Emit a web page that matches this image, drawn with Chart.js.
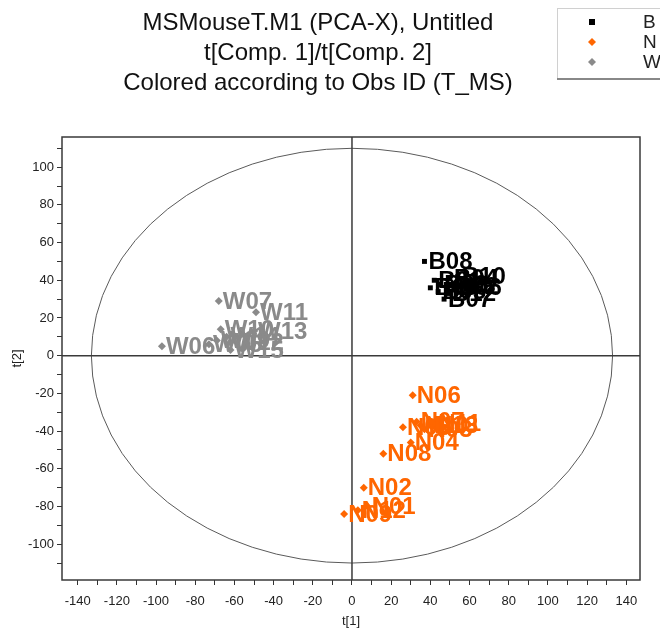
<!DOCTYPE html>
<html>
<head>
<meta charset="utf-8">
<script src="https://cdn.jsdelivr.net/npm/chart.js@4/dist/chart.umd.min.js"></script>
<style>
  html, body { margin: 0; padding: 0; background: #fff; }
  #wrap { width: 660px; height: 633px; position: relative; }
</style>
</head>
<body>
<div id="wrap"><canvas id="scoreChart"></canvas></div>
<script>
// --- Score values: t[1] and t[2] ---
const titleLines = ["MSMouseT.M1 (PCA-X), Untitled", "t[Comp. 1]/t[Comp. 2]", "Colored according to Obs ID (T_MS)"];
const groupNames = ["B", "N", "W"];

const bLabels = ["B01", "B03", "B09", "B05", "B02", "B04", "B06", "B10", "B12", "B07", "B08"];
const bT1 = [42, 45, 40, 44, 50, 50, 52, 54, 49, 47, 37];
const bT2 = [40, 38, 36, 34, 37, 41, 36, 42, 33, 30, 50];

const nLabels = ["N05", "N07", "N10", "N03", "N13", "N11", "N04", "N08", "N06", "N02", "N12", "N01", "N09"];
const nT1 = [26, 33, 35, 37, 40, 42, 30, 16, 31, 6, 3, 8, -4];
const nT2 = [-38, -35, -37, -39, -37, -36, -46, -52, -21, -70, -82, -80, -84];

const wLabels = ["W05", "W09", "W12", "W14", "W15", "W06", "W10", "W13", "W11", "W07"];
const wT1 = [-73, -69, -62, -64, -62, -97, -67, -50, -49, -68];
const wT2 = [6, 8, 7, 10, 3, 5, 14, 13, 23, 29];

// Hotelling T2 ellipse radii and axis ranges
const ellipseRx = 133, ellipseRy = 110;
const xMin = -148, xMax = 147, yMin = -119, yMax = 116;

const colB = "#000000", colN = "#ff6600", colW = "#8a8a8a";

function toPoints(xs, ys){
    return xs.map((x, i) => ({x: x, y: ys[i]}));
}

// --- Plugin: title, legend, ellipse, crosshair, box and point labels ---
const scorePlotDecor = {
    id: 'scorePlotDecor',
    beforeDatasetsDraw(chart){
        const ctx = chart.ctx, a = chart.chartArea;
        const xs = chart.scales.x, ys = chart.scales.y;
        ctx.save();
        // ellipse
        const cx = xs.getPixelForValue(0), cy = ys.getPixelForValue(0);
        const rx = xs.getPixelForValue(ellipseRx) - cx;
        const ry = cy - ys.getPixelForValue(ellipseRy);
        ctx.strokeStyle = "#5a5a5a";
        ctx.lineWidth = 1;
        ctx.beginPath();
        ctx.ellipse(cx, cy, rx, ry, 0, 0, Math.PI * 2);
        ctx.stroke();
        // crosshair
        ctx.strokeStyle = "#3a3a3a";
        ctx.lineWidth = 1.5;
        ctx.beginPath();
        ctx.moveTo(cx, a.top); ctx.lineTo(cx, a.bottom);
        ctx.moveTo(a.left, cy); ctx.lineTo(a.right, cy);
        ctx.stroke();
        // box
        ctx.strokeRect(a.left, a.top, a.right - a.left, a.bottom - a.top);
        ctx.restore();
    },
    afterDatasetsDraw(chart){
        const ctx = chart.ctx;
        ctx.save();
        ctx.font = "bold 24px 'Liberation Sans', Arial, sans-serif";
        ctx.textBaseline = "middle";
        ctx.textAlign = "left";
        chart.data.datasets.forEach((ds, di) => {
            const meta = chart.getDatasetMeta(di);
            ctx.fillStyle = ds.pointBackgroundColor;
            meta.data.forEach((pt, i) => {
                ctx.fillText(ds.names[i], pt.x + 4, pt.y + 1);
            });
        });
        ctx.restore();
    },
    afterDraw(chart){
        const ctx = chart.ctx;
        ctx.save();
        // title
        ctx.fillStyle = "#111";
        ctx.font = "24px 'Liberation Sans', Arial, sans-serif";
        ctx.textAlign = "center";
        ctx.textBaseline = "middle";
        titleLines.forEach((t, i) => ctx.fillText(t, 318, 23 + i * 30));
        // legend box
        ctx.fillStyle = "#fff";
        ctx.fillRect(557, 8, 110, 70);
        ctx.strokeStyle = "#d0d0d0";
        ctx.lineWidth = 1;
        ctx.strokeRect(557.5, 8.5, 110, 70);
        ctx.strokeStyle = "#888";
        ctx.lineWidth = 2;
        ctx.beginPath(); ctx.moveTo(557, 79); ctx.lineTo(660, 79); ctx.stroke();
        const legCols = [colB, colN, colW];
        ctx.font = "19px 'Liberation Sans', Arial, sans-serif";
        ctx.textAlign = "left";
        groupNames.forEach((g, i) => {
            const y = 22 + i * 20;
            ctx.fillStyle = legCols[i];
            if (i === 0){
                ctx.fillRect(589, y - 3, 6, 6);
            } else {
                ctx.beginPath();
                ctx.moveTo(592, y - 4); ctx.lineTo(596, y); ctx.lineTo(592, y + 4); ctx.lineTo(588, y);
                ctx.closePath(); ctx.fill();
            }
            ctx.fillStyle = "#222";
            ctx.fillText(g, 643, y + 1);
        });
        ctx.restore();
    }
};

function tickLabel(v){
    return v % 20 === 0 ? v : '';
}

new Chart(document.getElementById('scoreChart'), {
    type: 'scatter',
    data: {
        datasets: [
            {label: "W", names: wLabels, data: toPoints(wT1, wT2), pointStyle: 'rectRot', pointRadius: 4,
             pointBackgroundColor: colW, pointBorderColor: colW, pointBorderWidth: 0},
            {label: "N", names: nLabels, data: toPoints(nT1, nT2), pointStyle: 'rectRot', pointRadius: 4,
             pointBackgroundColor: colN, pointBorderColor: colN, pointBorderWidth: 0},
            {label: "B", names: bLabels, data: toPoints(bT1, bT2), pointStyle: 'rect', pointRadius: 3.5,
             pointBackgroundColor: colB, pointBorderColor: colB, pointBorderWidth: 0}
        ]
    },
    options: {
        responsive: true,
        maintainAspectRatio: false,
        animation: false,
        layout: { padding: { top: 137, right: 20, left: 0, bottom: 0 } },
        plugins: { legend: { display: false }, title: { display: false }, tooltip: { enabled: false } },
        scales: {
            x: {
                type: 'linear', min: xMin, max: xMax,
                afterFit(scale){ scale.height = 53; },
                border: { display: false },
                grid: { drawOnChartArea: false, drawTicks: true, tickLength: 5, color: "#333", lineWidth: 1 },
                ticks: { stepSize: 10, includeBounds: false, autoSkip: false, maxRotation: 0, padding: 9,
                         color: "#222", font: { family: "'Liberation Sans', Arial, sans-serif", size: 13 },
                         callback: tickLabel },
                title: { display: true, text: "t[1]", color: "#222", padding: { top: 0, bottom: 4 },
                         font: { family: "'Liberation Sans', Arial, sans-serif", size: 13 } }
            },
            y: {
                type: 'linear', min: yMin, max: yMax,
                afterFit(scale){ scale.width = 62; },
                border: { display: false },
                grid: { drawOnChartArea: false, drawTicks: true, tickLength: 5, color: "#333", lineWidth: 1 },
                ticks: { stepSize: 10, includeBounds: false, autoSkip: false, padding: 3,
                         color: "#222", font: { family: "'Liberation Sans', Arial, sans-serif", size: 13 },
                         callback: tickLabel },
                title: { display: true, text: "t[2]", color: "#222", padding: { top: 10, bottom: 0 },
                         font: { family: "'Liberation Sans', Arial, sans-serif", size: 13 } }
            }
        }
    },
    plugins: [scorePlotDecor]
});
</script>
</body>
</html>
